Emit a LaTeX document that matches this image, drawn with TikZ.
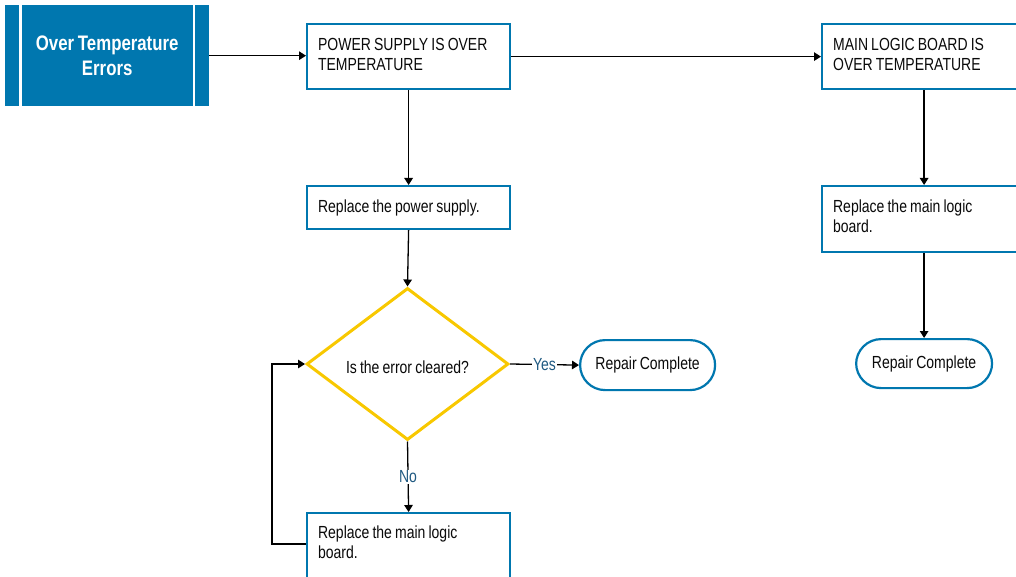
\documentclass[tikz,border=0pt]{standalone}
\usepackage{fontspec}
\setmainfont{Liberation Sans}[FakeStretch=0.8, WordSpace=0.8]
\usetikzlibrary{arrows.meta,shapes.geometric,calc}
\definecolor{flowblue}{RGB}{0,119,175}
\definecolor{flowyellow}{RGB}{248,200,0}
\definecolor{labelblue}{RGB}{32,90,130}
\definecolor{inktext}{RGB}{10,10,10}
% extra depth under the last line, lifting the text block a little
\newcommand\boxtailpad[1]{\rule[-#1]{0pt}{#1}}
\begin{document}
\begin{tikzpicture}[x=1pt,y=-1pt,
  every node/.style={font=\fontsize{17.5}{20}\selectfont, text=inktext},
  stepbox/.style={draw=flowblue, line width=2.2pt, fill=white, anchor=north west,
    inner xsep=11pt, inner ysep=0pt, align=flush left},
  decision/.style={diamond, draw=flowyellow, line width=3pt, fill=white,
    minimum width=202pt, minimum height=152pt, inner sep=0pt, align=center,
    text height=19pt, text depth=0pt},
  terminal/.style={draw=flowblue, line width=2.2pt, fill=white, rounded corners=25pt,
    anchor=north west, inner sep=0pt},
  conn/.style={line width=1.3pt, -{Triangle[length=7pt,width=8.5pt]}},
  branch/.style={fill=white, text=labelblue, inner sep=1pt}
]
\useasboundingbox (0,0) rectangle (1016,577);
\clip (0,0) rectangle (1016,577);

% title block with side stripes
\node[fill=flowblue, minimum width=204pt, minimum height=101pt, anchor=north west,
  inner sep=0pt, align=center, text=white,
  font=\bfseries\fontsize{21}{25}\selectfont] (hdr) at (5,5) {Over Temperature\\Errors};
\draw[white, line width=2.7pt] ($(hdr.north west)+(15.3,0)$) -- ($(hdr.south west)+(15.3,0)$);
\draw[white, line width=2.7pt] ($(hdr.north east)+(-15.3,0)$) -- ($(hdr.south east)+(-15.3,0)$);

% power supply branch
\node[stepbox, text width=181pt, minimum height=65pt] (ps) at (306,23)
  {POWER SUPPLY IS OVER\\TEMPERATURE\boxtailpad{4pt}};
\node[stepbox, text width=181pt, minimum height=43pt] (rps) at (306,185)
  {Replace the power supply.};
\node[decision] (dec) at (407.5,364) {Is the error cleared?};
\node[terminal, minimum width=135pt, minimum height=50pt] (rc1) at (579,339)
  {Repair Complete};
\node[stepbox, text width=181pt, minimum height=68pt] (rmlb) at (306,512)
  {Replace the main logic\\board.\boxtailpad{10pt}};

% main logic board branch
\node[stepbox, text width=182pt, minimum height=65pt] (mlb) at (821,23)
  {MAIN LOGIC BOARD IS\\OVER TEMPERATURE\boxtailpad{4pt}};
\node[stepbox, text width=182pt, minimum height=66pt] (mlb2) at (821,185)
  {Replace the main logic\\board.\boxtailpad{5pt}};
\node[terminal, minimum width=136pt, minimum height=49pt] (rc2) at (855,338)
  {Repair Complete};

% connectors
\draw[conn] (hdr.east) -- (hdr.east -| ps.west);
\draw[conn] (ps.east) -- (mlb.west);
\draw[conn] (ps.south) -- (rps.north);
\draw[conn] (rps.south) -- (dec.north);
\draw[conn] (dec.east) -- node[branch] {Yes} (rc1.west);
\draw[conn] (dec.south) -- node[branch] {No} (rmlb.north);
\draw[conn] ($(rmlb.north west)+(0,32)$) -- ++(-34,0) |- (dec.west);
\draw[conn] (mlb.south) -- (mlb2.north);
\draw[conn] (mlb2.south) -- (mlb2.south |- rc2.north);
\end{tikzpicture}
\end{document}
